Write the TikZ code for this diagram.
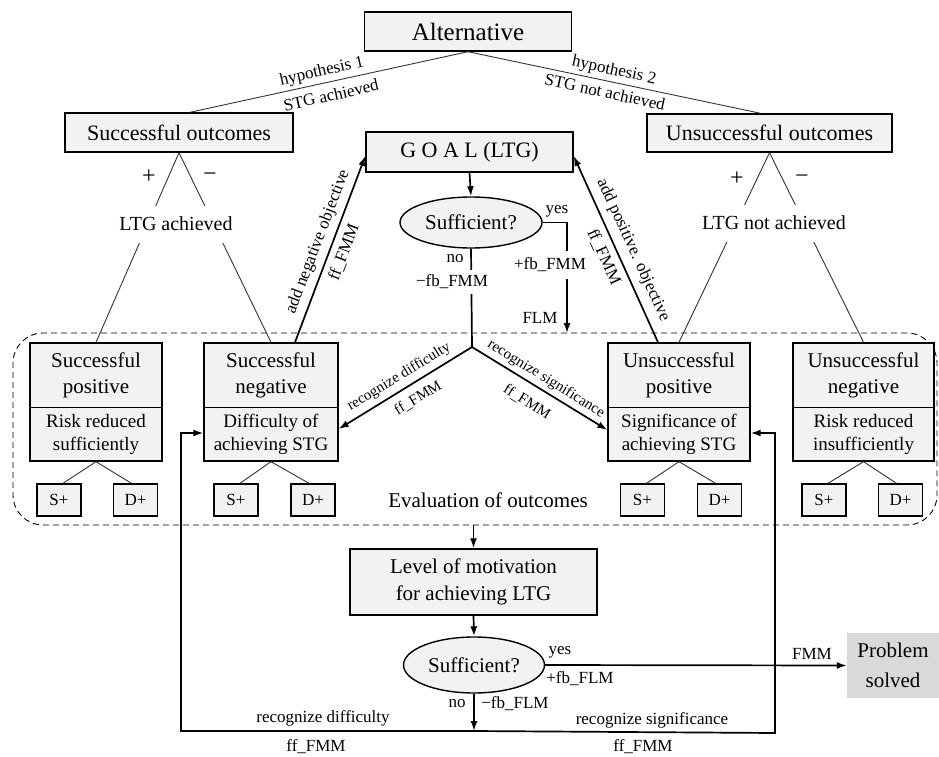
\documentclass[tikz,border=0pt]{standalone}
\usepackage{fontspec}
\setmainfont{LiberationSerif}[Extension=.ttf, UprightFont=*-Regular, BoldFont=*-Bold, ItalicFont=*-Italic, BoldItalicFont=*-BoldItalic]
\usetikzlibrary{shapes.geometric,arrows.meta,calc}
\definecolor{boxgray}{HTML}{F2F2F2}
\definecolor{psgray}{HTML}{D9D9D9}
\begin{document}
\begin{tikzpicture}[x=1pt,y=-1pt,
  box/.style={draw, line width=1.4pt, fill=boxgray, inner sep=0pt, align=center},
  big/.style={font=\fontsize{21}{26}\selectfont},
  mid/.style={font=\fontsize{19}{23}\selectfont},
  sml/.style={font=\fontsize{17}{20}\selectfont, inner sep=1pt},
  tiny/.style={font=\fontsize{15}{18}\selectfont, inner sep=1pt},
  obox/.style={box, minimum height=118pt},
  sbox/.style={box, minimum width=44pt, minimum height=32pt, font=\fontsize{17}{20}\selectfont},
  ell/.style={ellipse, draw, line width=1.4pt, fill=boxgray, inner sep=0pt},
  tline/.style={line width=0.9pt, draw=black!80},
  aline/.style={line width=1.7pt},
  arr/.style={line width=1.7pt, -{Latex[length=10pt,width=7pt]}},
  txt/.style={align=center, inner sep=0pt}
]
\useasboundingbox (0,0) rectangle (939,757);

% evaluation frame
\node[draw, dashed, dash pattern=on 6pt off 4pt, line width=0.9pt, rounded corners=30pt,
      minimum width=924pt, minimum height=192pt] (eval) at (475,429) {};
\node[big, inner sep=0pt] (evallbl) at (488,500) {Evaluation of outcomes};

% top
\node[box, minimum width=207pt, minimum height=39pt, font=\fontsize{25}{30}\selectfont] (alt) at (468,31.5) {Alternative};
\node[box, minimum width=228pt, minimum height=39pt, font=\fontsize{22}{26}\selectfont] (so) at (179,132.5) {Successful outcomes};
\node[box, minimum width=245pt, minimum height=38pt, font=\fontsize{22}{26}\selectfont] (uo) at (769.5,133) {Unsuccessful outcomes};
\node[box, font=\fontsize{22}{26}\selectfont, minimum width=207pt, minimum height=40pt] (goal) at (469.5,152) {G O A L (LTG)};

\draw[tline] (alt.south) -- ([xshift=11pt]so.north);
\draw[tline] (alt.south) -- ([xshift=-9pt]uo.north);
\node[sml, rotate=12.6] (h1) at (322,72) {hypothesis 1};
\node[sml, rotate=12.6] (h1b) at (331,95) {STG achieved};
\node[sml, rotate=-12.2] (h2) at (614,71) {hypothesis 2};
\node[sml, rotate=-12.2] (h2b) at (605,92) {STG not achieved};

% outcome boxes
\node[obox, minimum width=132pt] (sp) at (96,402) {};
\node[obox, minimum width=134pt] (sn) at (271,402) {};
\node[obox, minimum width=142pt] (up) at (679,402) {};
\node[obox, minimum width=141pt] (un) at (863.5,402) {};
\foreach \n in {sp,sn,up,un}{\draw[line width=0.9pt] (\n.west |- 0,407) -- (\n.east |- 0,407);}

\node[big, txt] (spt) at (96,375) {Successful\\positive};
\node[mid, txt] (spb) at (96,434) {Risk reduced\\sufficiently};
\node[big, txt] (snt) at (271,375) {Successful\\negative};
\node[mid, txt] (snb) at (271,434) {Difficulty of\\achieving STG};
\node[big, txt] (upt) at (679,375) {Unsuccessful\\positive};
\node[mid, txt] (upb) at (679,434) {Significance of\\achieving STG};
\node[big, txt] (unt) at (863.5,375) {Unsuccessful\\negative};
\node[mid, txt] (unb) at (863.5,434) {Risk reduced\\insufficiently};

% S+ D+
\node[sbox] (spS) at (59,500) {S+};
\node[sbox] (spD) at (135.5,500) {D+};
\node[sbox] (snS) at (236,500) {S+};
\node[sbox] (snD) at (313,500) {D+};
\node[sbox] (upS) at (642.5,500) {S+};
\node[sbox] (upD) at (719.5,500) {D+};
\node[sbox] (unS) at (824,500) {S+};
\node[sbox] (unD) at (900.5,500) {D+};
\foreach \n in {sp,sn,up,un}{
  \draw[tline] (\n.south) -- ([xshift=4pt]\n S.north);
  \draw[tline] (\n.south) -- ([xshift=-4pt]\n D.north);
}

% outcome trees
\draw[tline] (so.south) -- (sp.north);
\draw[tline] (so.south) -- (sn.north);
\draw[tline] (uo.south) -- (up.north);
\draw[tline] (uo.south) -- (un.north);
\node[font=\fontsize{20}{24}\selectfont, fill=white, inner xsep=2pt, minimum height=37pt] (ltga) at (176,224) {LTG achieved};
\node[font=\fontsize{20}{24}\selectfont, fill=white, inner xsep=2pt, minimum height=37pt] (ltgn) at (774,223) {LTG not achieved};
\node[font=\fontsize{24}{28}\selectfont, inner sep=0pt] (p1) at (149,177) {+};
\node[font=\fontsize{24}{28}\selectfont, inner sep=0pt] (m1) at (210,177) {−};
\node[font=\fontsize{24}{28}\selectfont, inner sep=0pt] (p2) at (737,179) {+};
\node[font=\fontsize{24}{28}\selectfont, inner sep=0pt] (m2) at (802,179) {−};

% goal arrows
\draw[arr] ([xshift=24pt]sn.north) -- ($(goal.west)+(0,4)$);
\draw[arr] ([xshift=-21pt]up.north) -- ($(goal.east)+(0,4)$);
\node[sml, rotate=69.1] (anl) at (318,242) {add negative objective};
\node[sml, rotate=69.1] (anf) at (344,252) {ff\_FMM};
\node[sml, rotate=-65.4] (apl) at (633,250) {add positive. objective};
\node[sml, rotate=-65.4] (apf) at (604,257) {ff\_FMM};

% sufficient 1
\node[ell, big, minimum width=142pt, minimum height=51pt] (suf1) at (471,222.5) {Sufficient?};
\draw[arr] (goal.south) -- (suf1.north);
\coordinate (flmend) at (567,333);
\draw[arr] (suf1.east) -| (flmend);
\node[sml] (yes1) at (557,211) {yes};
\node[sml, fill=white, minimum height=28pt] (pfb) at (550,265) {+fb\_FMM};
\node[sml] (flm) at (540,318) {FLM};
\coordinate (split) at (472,347);
\draw[aline] (suf1.south) -- (split);
\node[sml] (no1) at (455,259) {no};
\node[sml, fill=white, minimum height=24pt] (mfb) at (452,282) {−fb\_FMM};
\draw[arr] (split) -- (sn.east |- 0,429);
\draw[arr] (split) -- (up.west |- 0,430);
\node[tiny, rotate=31.3] (rd1) at (399,377) {recognize difficulty};
\node[tiny, rotate=31.3] (rd1f) at (418,398) {ff\_FMM};
\node[tiny, rotate=-31.8] (rs1) at (546,379) {recognize significance};
\node[tiny, rotate=-31.8] (rs1f) at (527,402) {ff\_FMM};

% bottom
\node[box, minimum width=247pt, minimum height=66pt, font=\fontsize{21}{27}\selectfont] (level) at (473.5,582) {Level of motivation\\for achieving LTG};
\draw[arr] (level.north |- eval.south) -- (level.north);
\node[ell, big, minimum width=141pt, minimum height=56pt] (suf2) at (474,665) {Sufficient?};
\draw[arr] (level.south) -- (suf2.north);
\node[fill=psgray, minimum width=92pt, minimum height=65pt, align=center, inner sep=0pt, font=\fontsize{21}{30}\selectfont] (ps) at (893,665.5) {Problem\\solved};
\draw[arr] (suf2.east) -- (ps.west);
\node[sml] (yes2) at (560,652) {yes};
\node[sml] (pfl) at (580,679) {+fb\_FLM};
\node[sml] (fmm) at (812,654) {FMM};
\coordinate (junc) at (474,731);
\coordinate (lc) at (181,731);
\coordinate (rc) at (775,733);
\draw[arr] (suf2.south) -- (junc);
\node[sml] (no2) at (457,704) {no};
\node[sml] (mfl) at (515,704) {−fb\_FLM};
\draw[arr] (junc) -- (lc) |- (sn.west |- 0,433);
\draw[arr] (junc) -- (rc) |- (up.east |- 0,433);
\node[sml] (rd2) at (323,718) {recognize difficulty};
\node[sml] (rd2f) at (316,747) {ff\_FMM};
\node[sml] (rs2) at (652,720) {recognize significance};
\node[sml] (rs2f) at (643,747) {ff\_FMM};
\end{tikzpicture}
\end{document}
